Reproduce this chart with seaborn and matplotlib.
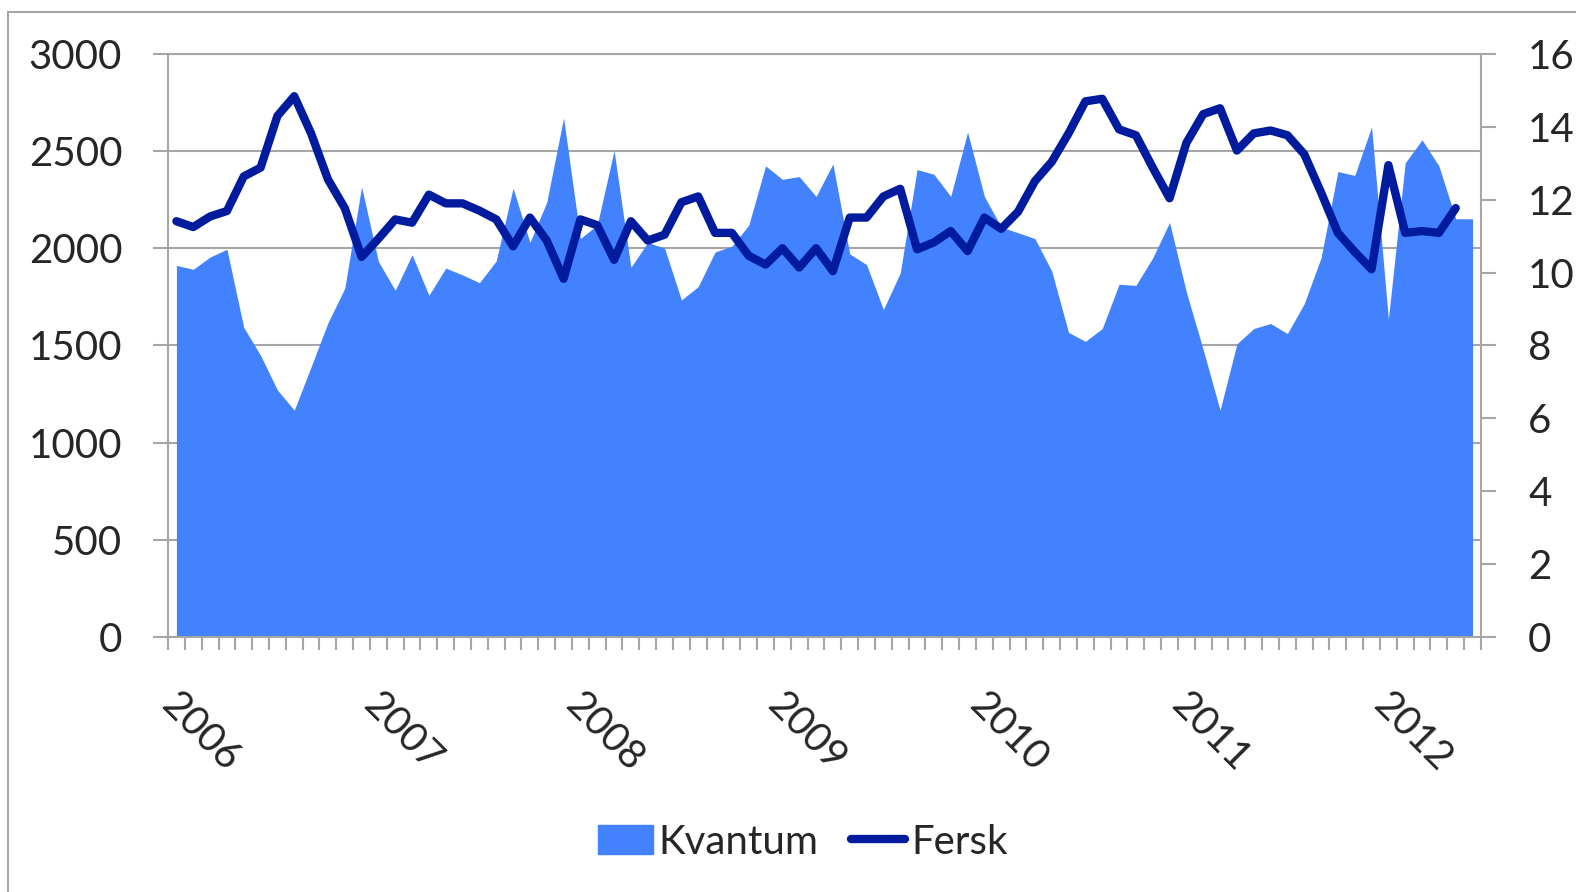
import numpy as np
import matplotlib
matplotlib.use('Agg')
import matplotlib.pyplot as plt
import matplotlib.transforms as mtransforms
from matplotlib.patches import Rectangle, Patch
from matplotlib.lines import Line2D
import seaborn as sns

# Monthly data, Jan 2006 - Jun 2012
years = ['2006', '2007', '2008', '2009', '2010', '2011', '2012']

kvantum = [1912, 1892, 1955, 1995, 1593, 1449, 1271, 1167, 1390, 1616, 1794, 2316,
           1932, 1784, 1967, 1758, 1898, 1863, 1823, 1935, 2310, 2030, 2237, 2671,
           2050, 2120, 2503, 1902, 2030, 2001, 1734, 1803, 1981, 2011, 2119, 2424,
           2355, 2369, 2267, 2434, 1971, 1916, 1685, 1873, 2405, 2381, 2267, 2598,
           2267, 2109, 2080, 2050, 1883, 1567, 1521, 1587, 1815, 1809, 1951, 2133,
           1774, 1478, 1167, 1508, 1587, 1613, 1561, 1715, 1951, 2395, 2375, 2625,
           1636, 2440, 2558, 2424, 2152, 2152]

fersk = [11.41, 11.25, 11.54, 11.69, 12.64, 12.88, 14.30, 14.84, 13.82, 12.56, 11.77, 10.43,
         10.93, 11.46, 11.37, 12.14, 11.90, 11.90, 11.70, 11.46, 10.72, 11.51, 10.88, 9.83,
         11.46, 11.30, 10.35, 11.41, 10.88, 11.04, 11.93, 12.09, 11.09, 11.09, 10.46, 10.22,
         10.67, 10.14, 10.67, 10.04, 11.51, 11.51, 12.09, 12.30, 10.64, 10.83, 11.14, 10.59,
         11.51, 11.20, 11.67, 12.51, 13.04, 13.82, 14.70, 14.77, 13.93, 13.77, 12.88, 12.04,
         13.56, 14.35, 14.51, 13.35, 13.82, 13.90, 13.77, 13.25, 12.20, 11.09, 10.57, 10.09,
         12.95, 11.09, 11.14, 11.09, 11.77]

AREA = '#4282FF'
LINE = '#001B9E'
GREY = '#A6A6A6'

sns.set_theme(style='white')
plt.rcParams['font.family'] = ['Lato', 'DejaVu Sans']

fig = plt.figure(figsize=(15.76, 8.92), dpi=100)
ax = fig.add_axes([0.1066, 0.2859, 0.8331, 0.6536])

# Kvantum as filled area on the left axis
x_k = np.arange(len(kvantum))
ax.fill_between(x_k, kvantum, color=AREA, lw=0)
ax.set_xlim(-0.5, len(kvantum) - 0.5)
ax.set_ylim(0, 3000)
ax.set_yticks(range(0, 3001, 500))
ax.grid(axis='y', color=GREY, lw=1.5)
ax.grid(axis='x', visible=False)
ax.set_axisbelow(True)

# month boundary ticks, year labels
bounds = np.arange(len(kvantum) + 1) - 0.5
labels = [years[i // 12] if i % 12 == 0 and i // 12 < len(years) else '' for i in range(len(bounds))]
ax.set_xticks(bounds, labels, rotation=-45, ha='left', va='top', rotation_mode='anchor')
ax.tick_params(axis='x', bottom=True, length=9.4, width=1.5, color=GREY, pad=26, labelsize=29)
ax.tick_params(axis='y', left=True, length=11, width=1.5, color=GREY, pad=22, labelsize=29)
offset = mtransforms.ScaledTranslation(12 / 100, 0, fig.dpi_scale_trans)
for lab in ax.get_xticklabels():
    lab.set_transform(lab.get_transform() + offset)

for side in ['left', 'bottom', 'top']:
    ax.spines[side].set_color(GREY)
    ax.spines[side].set_linewidth(1.5)
ax.spines['right'].set_visible(False)

# Fersk as line on the right axis
ax2 = ax.twinx()
sns.lineplot(x=np.arange(len(fersk)), y=fersk, ax=ax2, color=LINE, linewidth=6,
             solid_joinstyle='round', solid_capstyle='round')
ax2.set_ylim(0, 16)
ax2.set_yticks(range(0, 17, 2))
ax2.grid(False)
ax2.set_ylabel('')
ax2.tick_params(axis='y', right=True, length=11, width=1.5, color=GREY, pad=23, labelsize=29)
for side in ['left', 'bottom', 'top']:
    ax2.spines[side].set_visible(False)
ax2.spines['right'].set_color(GREY)
ax2.spines['right'].set_linewidth(1.5)

# Legend
handles = [Patch(color=AREA, label='Kvantum'),
           Line2D([], [], color=LINE, lw=6, solid_capstyle='round', label='Fersk')]
fig.legend(handles=handles, loc='center', bbox_to_anchor=(803 / 1576, 1 - 842 / 892), ncol=2,
           frameon=False, fontsize=29, handlelength=1.35, handleheight=0.7,
           handletextpad=0.15, columnspacing=0.8)

# chart frame
fig.add_artist(Rectangle((8 / 1576, -0.5), 2, 0.5 + 1 - 12 / 892, transform=fig.transFigure,
                         fill=False, edgecolor=GREY, lw=1.5))

fig.savefig('out.png', dpi=100)
